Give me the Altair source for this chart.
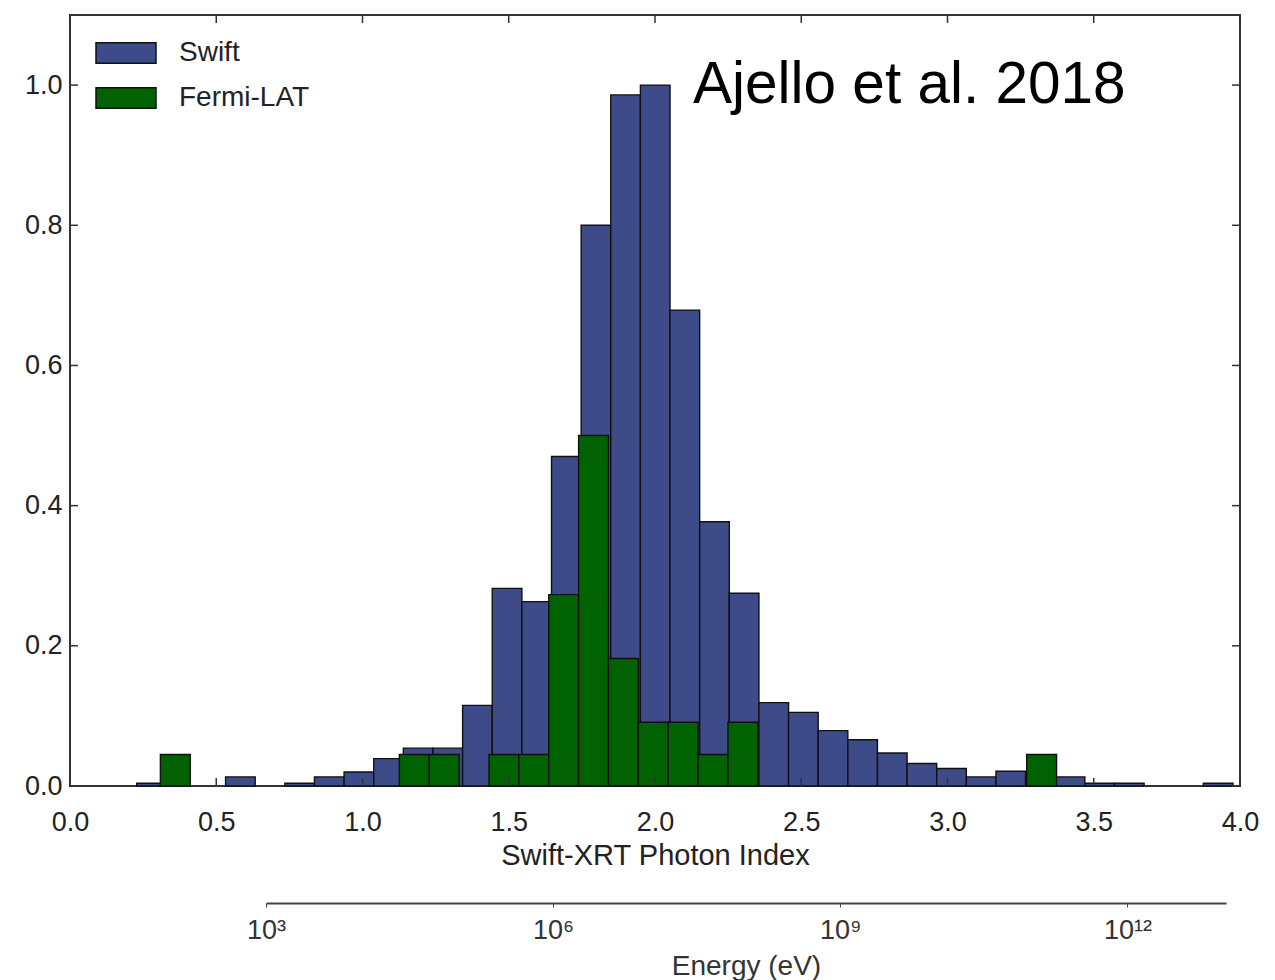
import altair as alt
import pandas as pd

# Histogram of photon indices (normalised to the tallest Swift bin)
swift_start = 0.228
swift_width = 0.1013
swift_values = [0.004, 0.0, 0.0, 0.013, 0.0, 0.004, 0.013, 0.020, 0.039, 0.054,
                0.054, 0.115, 0.282, 0.263, 0.470, 0.800, 0.986, 1.000, 0.679, 0.377,
                0.275, 0.119, 0.105, 0.079, 0.066, 0.047, 0.032, 0.025, 0.013, 0.021,
                0.013, 0.013, 0.004, 0.004, 0.0, 0.0, 0.004]

fermi_start = 0.309
fermi_width = 0.10213
fermi_values = [0.045, 0.0, 0.0, 0.0, 0.0, 0.0, 0.0, 0.0, 0.045, 0.045,
                0.0, 0.045, 0.045, 0.273, 0.500, 0.182, 0.091, 0.091, 0.045, 0.091,
                0.0, 0.0, 0.0, 0.0, 0.0, 0.0, 0.0, 0.0, 0.0, 0.045]

series_names = ["Swift", "Fermi-LAT"]
series_colors = ["#3d4b89", "#006200"]

x_ticks = [0.0, 0.5, 1.0, 1.5, 2.0, 2.5, 3.0, 3.5, 4.0]
y_ticks = [0.0, 0.2, 0.4, 0.6, 0.8, 1.0]

energy_ticks = [1e3, 1e6, 1e9, 1e12]
energy_labels = ["10³", "10⁶", "10⁹", "10¹²"]
energy_domain = [1e3, 1.07e13]

annotation = "Ajello et al. 2018"

W, H = 1170, 771
FONT = "Liberation Sans"


def hist_rows(name, start, width, values):
    rows = []
    for i, v in enumerate(values):
        if v > 0:
            lo = start + i * width
            rows.append({"series": name, "lo": lo, "hi": lo + width, "value": v})
    return rows


bars_df = pd.DataFrame(
    hist_rows("Swift", swift_start, swift_width, swift_values)
    + hist_rows("Fermi-LAT", fermi_start, fermi_width, fermi_values)
)

x_scale = alt.Scale(domain=[0, 4], nice=False, zero=False)
y_scale = alt.Scale(domain=[0, 1.1], nice=False)

bars = alt.Chart(bars_df).mark_rect(stroke="#111111", strokeWidth=1.4).encode(
    x=alt.X("lo:Q", scale=x_scale,
            axis=alt.Axis(values=x_ticks, format=".1f", ticks=False, domain=False,
                          grid=False, labelFontSize=27, labelColor="#222222",
                          labelPadding=23, labelFont=FONT, labelFlush=False,
                          title="Swift-XRT Photon Index", titleFontSize=29,
                          titleFontWeight="normal", titleColor="#222222",
                          titleFont=FONT, titlePadding=6)),
    x2="hi:Q",
    y=alt.Y("value:Q", scale=y_scale,
            axis=alt.Axis(values=y_ticks, format=".1f", ticks=False, domain=False,
                          grid=False, labelFontSize=27, labelColor="#222222",
                          labelPadding=8, labelFont=FONT, labelFlush=False, title=None)),
    y2=alt.datum(0),
    color=alt.Color("series:N",
                    scale=alt.Scale(domain=series_names, range=series_colors),
                    legend=alt.Legend(title=None, orient="none", legendX=25, legendY=7,
                                      symbolType="M-1,-0.34H1V0.34H-1Z", symbolSize=3600,
                                      symbolStrokeColor="#111111", symbolStrokeWidth=1.5,
                                      symbolOpacity=1, labelFontSize=28, labelFont=FONT,
                                      labelColor="#222222", labelOffset=22,
                                      rowPadding=-6, padding=0)),
)

xt_df = pd.DataFrame({"x": x_ticks})
yt_df = pd.DataFrame({"y": y_ticks})
tick_style = dict(color="#333333", strokeWidth=1.5)

ticks_bottom = alt.Chart(xt_df).mark_rule(**tick_style).encode(
    x=alt.X("x:Q", scale=x_scale), y=alt.value(H), y2=alt.value(H - 8))
ticks_top = alt.Chart(xt_df).mark_rule(**tick_style).encode(
    x=alt.X("x:Q", scale=x_scale), y=alt.value(0), y2=alt.value(8))
ticks_left = alt.Chart(yt_df).mark_rule(**tick_style).encode(
    y=alt.Y("y:Q", scale=y_scale), x=alt.value(0), x2=alt.value(8))
ticks_right = alt.Chart(yt_df).mark_rule(**tick_style).encode(
    y=alt.Y("y:Q", scale=y_scale), x=alt.value(W), x2=alt.value(W - 8))

note = alt.Chart(pd.DataFrame({"x": [2.13], "y": [0.974], "t": [annotation]})).mark_text(
    align="left", baseline="alphabetic", fontSize=58.5, font=FONT, color="#000000"
).encode(x=alt.X("x:Q", scale=x_scale), y=alt.Y("y:Q", scale=y_scale), text="t:N")

main = alt.layer(bars, ticks_bottom, ticks_top, ticks_left, ticks_right, note)

# Energy axis of the panel below
label_expr = " : ".join(
    f"abs(datum.value - {v}) < {v} * 0.01 ? '{lab}'" for v, lab in zip(energy_ticks, energy_labels)
) + " : ''"

energy = alt.Chart(pd.DataFrame({"e": energy_ticks})).mark_point(opacity=0).encode(
    x=alt.X("e:Q",
            scale=alt.Scale(type="log", domain=energy_domain, range=[196, 1156], nice=False),
            axis=alt.Axis(orient="bottom", offset=117, values=energy_ticks,
                          labelExpr=label_expr, grid=False, tickSize=4,
                          tickColor="#444444", domainColor="#444444", domainWidth=2,
                          labelFontSize=27, labelColor="#333333", labelFont=FONT,
                          labelPadding=10, labelFlush=False,
                          title="Energy (eV)", titleFontSize=28,
                          titleFontWeight="normal", titleColor="#333333",
                          titleFont=FONT, titlePadding=9)),
)

chart = alt.layer(main, energy).resolve_scale(x="independent").properties(
    width=W, height=H,
    autosize=alt.AutoSizeParams(type="none"),
    padding={"left": 70, "top": 15, "right": 35, "bottom": 194},
    background="white",
).configure_view(stroke="#333333", strokeWidth=2)

chart.save("out.html", embed_options={"renderer": "svg", "actions": False})
